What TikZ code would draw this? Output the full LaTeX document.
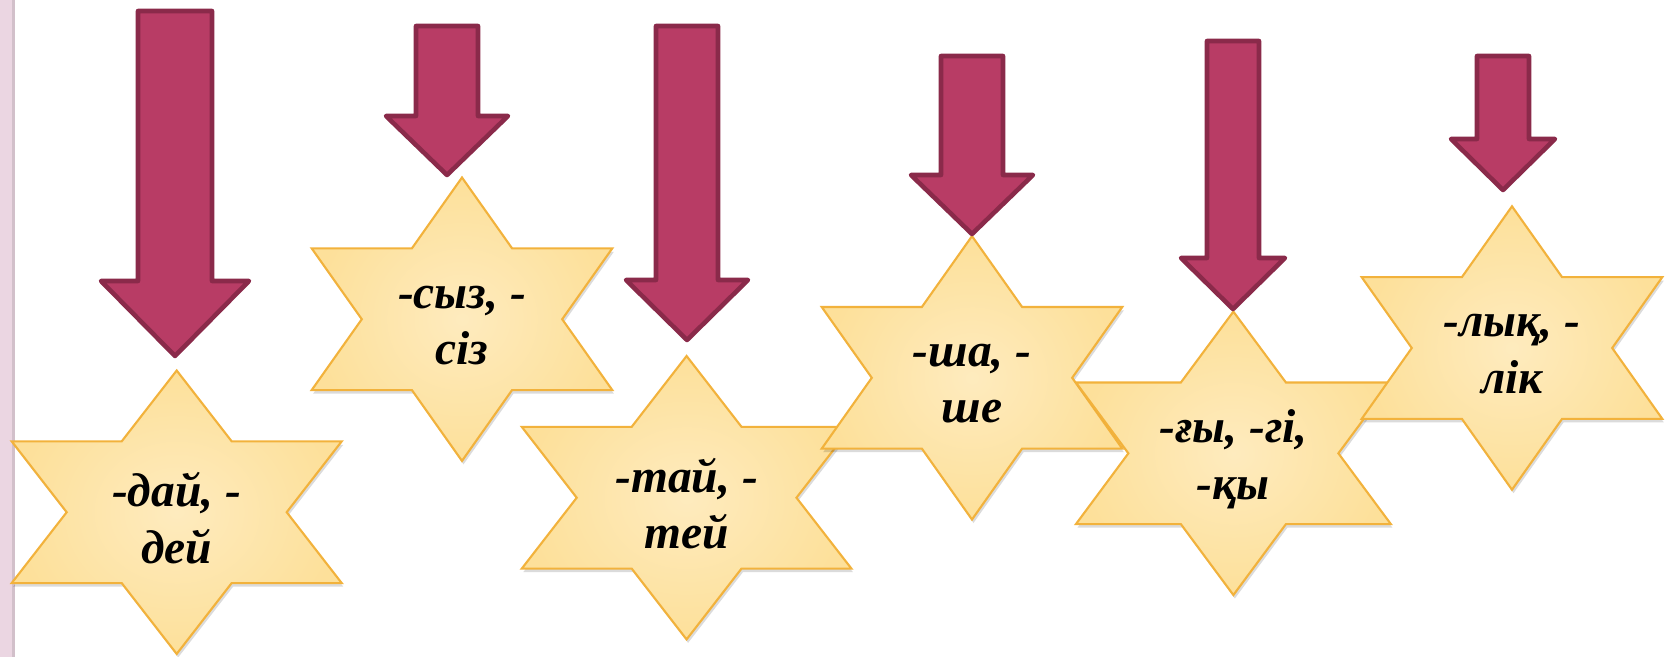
\documentclass[tikz,border=0pt]{standalone}
\usepackage{fontspec}
\setmainfont{Liberation Serif}
\usetikzlibrary{calc}

\definecolor{arrowfill}{HTML}{B83C65}
\definecolor{arrowedge}{HTML}{8A2A4A}
\definecolor{starfill}{HTML}{FDE09A}
\definecolor{starlight}{HTML}{FEEBBE}
\definecolor{staredge}{HTML}{F2B23C}
\definecolor{stripfill}{HTML}{EBD6E2}
\definecolor{stripedge}{HTML}{D2C0CA}

\tikzset{
    suffix/.style={font=\bfseries\itshape\fontsize{13.5}{16}\selectfont, align=center, inner sep=0pt},
    hexstar/.style={draw=staredge, line width=0.6pt, inner color=starlight, outer color=starfill},
    starshadow/.style={fill=black, opacity=0.14},
    downarrow/.style={draw=arrowedge, fill=arrowfill, line width=1.3pt, line join=round},
    pics/hexagram/.style={code={
        \path[pic actions] (0,-141.7) -- (#1/3,-70.85) -- (#1,-70.85) -- (2*#1/3,0)
            -- (#1,70.85) -- (#1/3,70.85) -- (0,141.7) -- (-#1/3,70.85) -- (-#1,70.85)
            -- (-2*#1/3,0) -- (-#1,-70.85) -- (-#1/3,-70.85) -- cycle;
    }},
}

\begin{document}
\begin{tikzpicture}[x=0.01cm, y=-0.01cm]
    \useasboundingbox (0,0) rectangle (1668,657);
    \fill[stripfill] (0,0) rectangle (13,657);
    \draw[stripedge, line width=0.8pt] (13.5,0) -- (13.5,657);

    % stars, left to right, each one over the one before
    \foreach \name/\cx/\cy/\w/\txt in {
        dai/176.7/512.2/165/{-дай, -\\дей},
        syz/462/319.2/150.3/{-сыз, -\\сіз},
        tai/686.6/497.7/164.8/{-тай, -\\тей},
        sha/972/377.8/150.3/{-ша, -\\ше},
        gy/1233.4/453.3/157.5/{-ғы, -гі,\\-қы},
        lyq/1512/348/150.3/{-лық, -\\лік}} {
        \pic[starshadow] at (\cx+1.5,\cy+3.5) {hexagram=\w};
        \pic[hexstar] at (\cx,\cy) {hexagram=\w};
        \node[suffix] (\name) at (\cx,\cy+6) {\txt};
    }

    % block arrows
    \foreach \cx/\sw/\hw/\yt/\yh/\ty in {
        175/37/74/11/281/356,
        447/31/61/26/116/175,
        687/31/61/26/280/340,
        972/31/61/56/175/234,
        1233/26/52/41/258/309,
        1503/26/52/56/139/190} {
        \draw[downarrow] (\cx-\sw,\yt) -- (\cx+\sw,\yt) -- (\cx+\sw,\yh) -- (\cx+\hw,\yh)
            -- (\cx,\ty) -- (\cx-\hw,\yh) -- (\cx-\sw,\yh) -- cycle;
    }
\end{tikzpicture}
\end{document}
